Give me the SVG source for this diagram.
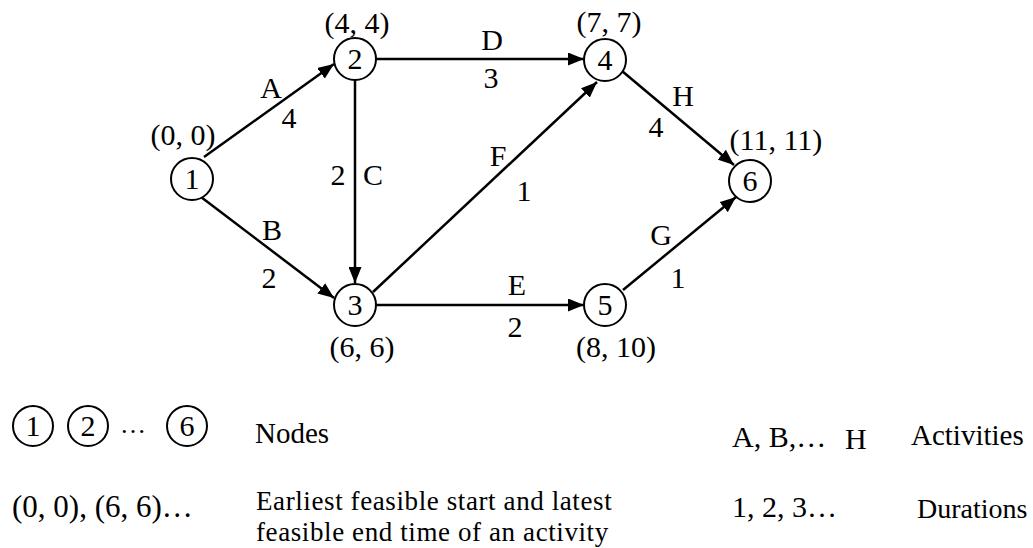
<svg xmlns="http://www.w3.org/2000/svg" width="1033" height="548" viewBox="0 0 1033 548">
<style>
text{font-family:"Liberation Serif","Times New Roman",serif;font-size:30px;fill:#000}
.m{text-anchor:middle}
.d{font-size:29px}
.w{font-size:27px;letter-spacing:0.6px}
.n circle,circle.n{fill:#fff;stroke:#000;stroke-width:2}
.e line{stroke:#000;stroke-width:2.5;marker-end:url(#ah)}
</style>
<defs>
<marker id="ah" markerUnits="userSpaceOnUse" markerWidth="16" markerHeight="13" refX="16" refY="6.5" orient="auto">
<path d="M0,0 L16,6.5 L0,13 z" fill="#000"/>
</marker>
</defs>
<rect width="1033" height="548" fill="#fff"/>
<g id="connectors" class="e">
<line x1="204" y1="157" x2="334" y2="64"/>
<line x1="201" y1="197" x2="334" y2="298"/>
<line x1="355" y1="80" x2="355" y2="283"/>
<line x1="376" y1="59" x2="584" y2="59"/>
<line x1="376" y1="305" x2="584" y2="305"/>
<line x1="373" y1="292" x2="597" y2="82"/>
<line x1="622" y1="71" x2="734" y2="165"/>
<line x1="623" y1="290" x2="736" y2="197"/>
</g>
<g id="edge-labels" class="m">
<text x="271" y="98">A</text><text x="289" y="128">4</text>
<text x="272" y="240">B</text><text x="269" y="288">2</text>
<text x="338" y="185">2</text><text x="373" y="185">C</text>
<text x="492" y="50">D</text><text x="491" y="88">3</text>
<text x="517" y="295">E</text><text x="515" y="337">2</text>
<text x="498" y="166">F</text><text x="524" y="201">1</text>
<text x="683" y="106">H</text><text x="656" y="137">4</text>
<text x="661" y="245">G</text><text x="678" y="288">1</text>
</g>
<g id="node1" class="n"><circle cx="192" cy="179" r="21"/><text class="m" x="192" y="189">1</text><text class="m" x="183" y="145">(0, 0)</text></g>
<g id="node2" class="n"><circle cx="355" cy="59" r="21"/><text class="m" x="355" y="69">2</text><text class="m" x="357" y="33">(4, 4)</text></g>
<g id="node3" class="n"><circle cx="355" cy="305" r="21"/><text class="m" x="355" y="315">3</text><text class="m" x="362" y="357">(6, 6)</text></g>
<g id="node4" class="n"><circle cx="605" cy="60" r="21"/><text class="m" x="605" y="70">4</text><text class="m" x="609" y="32">(7, 7)</text></g>
<g id="node5" class="n"><circle cx="605" cy="305" r="21"/><text class="m" x="605" y="315">5</text><text class="m" x="616" y="357">(8, 10)</text></g>
<g id="node6" class="n"><circle cx="750" cy="181" r="21"/><text class="m" x="750" y="191">6</text><text class="m" x="776" y="150">(11, 11)</text></g>
<g id="legend">
<circle class="n" cx="33" cy="426" r="20"/><text class="m" x="33" y="436">1</text>
<circle class="n" cx="88" cy="426" r="20"/><text class="m" x="88" y="436">2</text>
<text x="120" y="433" style="font-size:26px">…</text>
<circle class="n" cx="187" cy="426" r="20"/><text class="m" x="187" y="436">6</text>
<text class="d" x="255" y="443">Nodes</text>
<text x="12" y="517" style="font-size:31px">(0, 0), (6, 6)…</text>
<text class="w" x="256" y="510">Earliest feasible start and latest</text>
<text class="w" x="256" y="541">feasible end time of an activity</text>
<text x="732" y="447">A, B,…</text>
<text x="845" y="449">H</text>
<text class="d" x="911" y="445">Activities</text>
<text x="732" y="517">1, 2, 3…</text>
<text class="d" x="917" y="518" style="font-size:28px">Durations</text>
</g>
</svg>
